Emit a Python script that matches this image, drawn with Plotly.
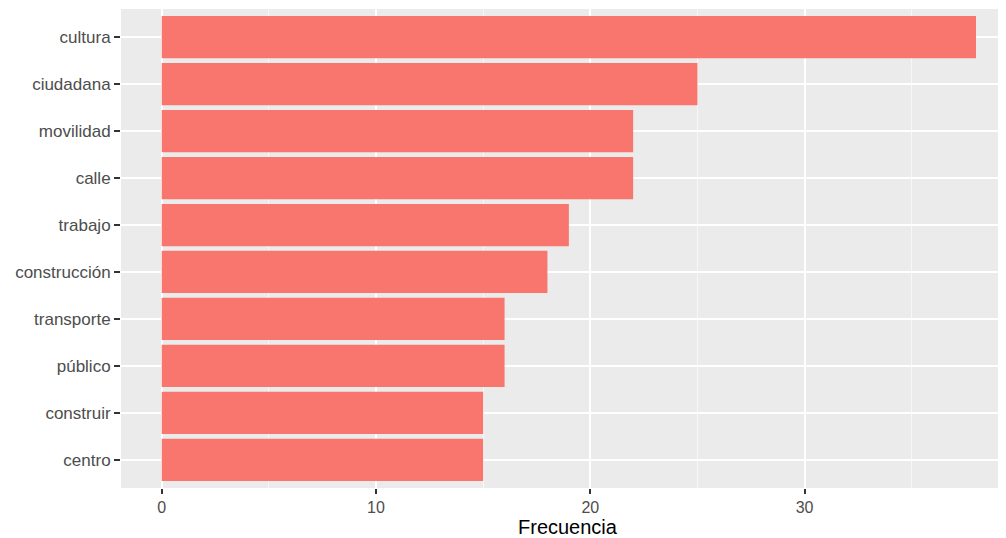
import plotly.graph_objects as go

categories = ["cultura", "ciudadana", "movilidad", "calle", "trabajo",
              "construcción", "transporte", "público", "construir", "centro"]
frecuencia = [38, 25, 22, 22, 19, 18, 16, 16, 15, 15]
x_ticks = [0, 10, 20, 30]

fig = go.Figure(go.Bar(
    x=frecuencia,
    y=categories,
    orientation="h",
    marker=dict(color="#F8766D", line=dict(width=0)),
    width=0.9,
))

fig.update_layout(
    width=998, height=530,
    margin=dict(l=113, r=0, t=1, b=50, autoexpand=False),
    paper_bgcolor="white",
    plot_bgcolor="#EBEBEB",
    showlegend=False,
    font=dict(family="Liberation Sans, Arial, sans-serif"),
    bargap=0.1,
)

fig.update_xaxes(
    automargin=False,
    range=[-1.9, 39.4],
    tickvals=x_ticks,
    ticktext=[str(v) for v in x_ticks],
    showgrid=True, gridcolor="white", gridwidth=2,
    minor=dict(tick0=0, dtick=5, showgrid=True, gridcolor="#F7F7F7", gridwidth=1),
    ticks="outside", ticklen=5, tickwidth=1.5, tickcolor="#333333",
    tickfont=dict(size=16, color="#4D4D4D"),
    zeroline=False, showline=False,
)

fig.update_yaxes(
    automargin=False,
    categoryorder="array",
    categoryarray=categories[::-1],
    range=[-0.6, 9.6],
    showgrid=True, gridcolor="white", gridwidth=2,
    ticks="outside", ticklen=6, tickwidth=1.5, tickcolor="#333333",
    tickfont=dict(size=17, color="#4D4D4D"),
    zeroline=False, showline=False,
)

fig.add_annotation(
    text="Frecuencia", xref="paper", yref="paper",
    x=0.505, y=-0.0814, xanchor="center", yanchor="middle",
    showarrow=False, font=dict(size=20, color="black"),
)

fig.write_html("out.html")
